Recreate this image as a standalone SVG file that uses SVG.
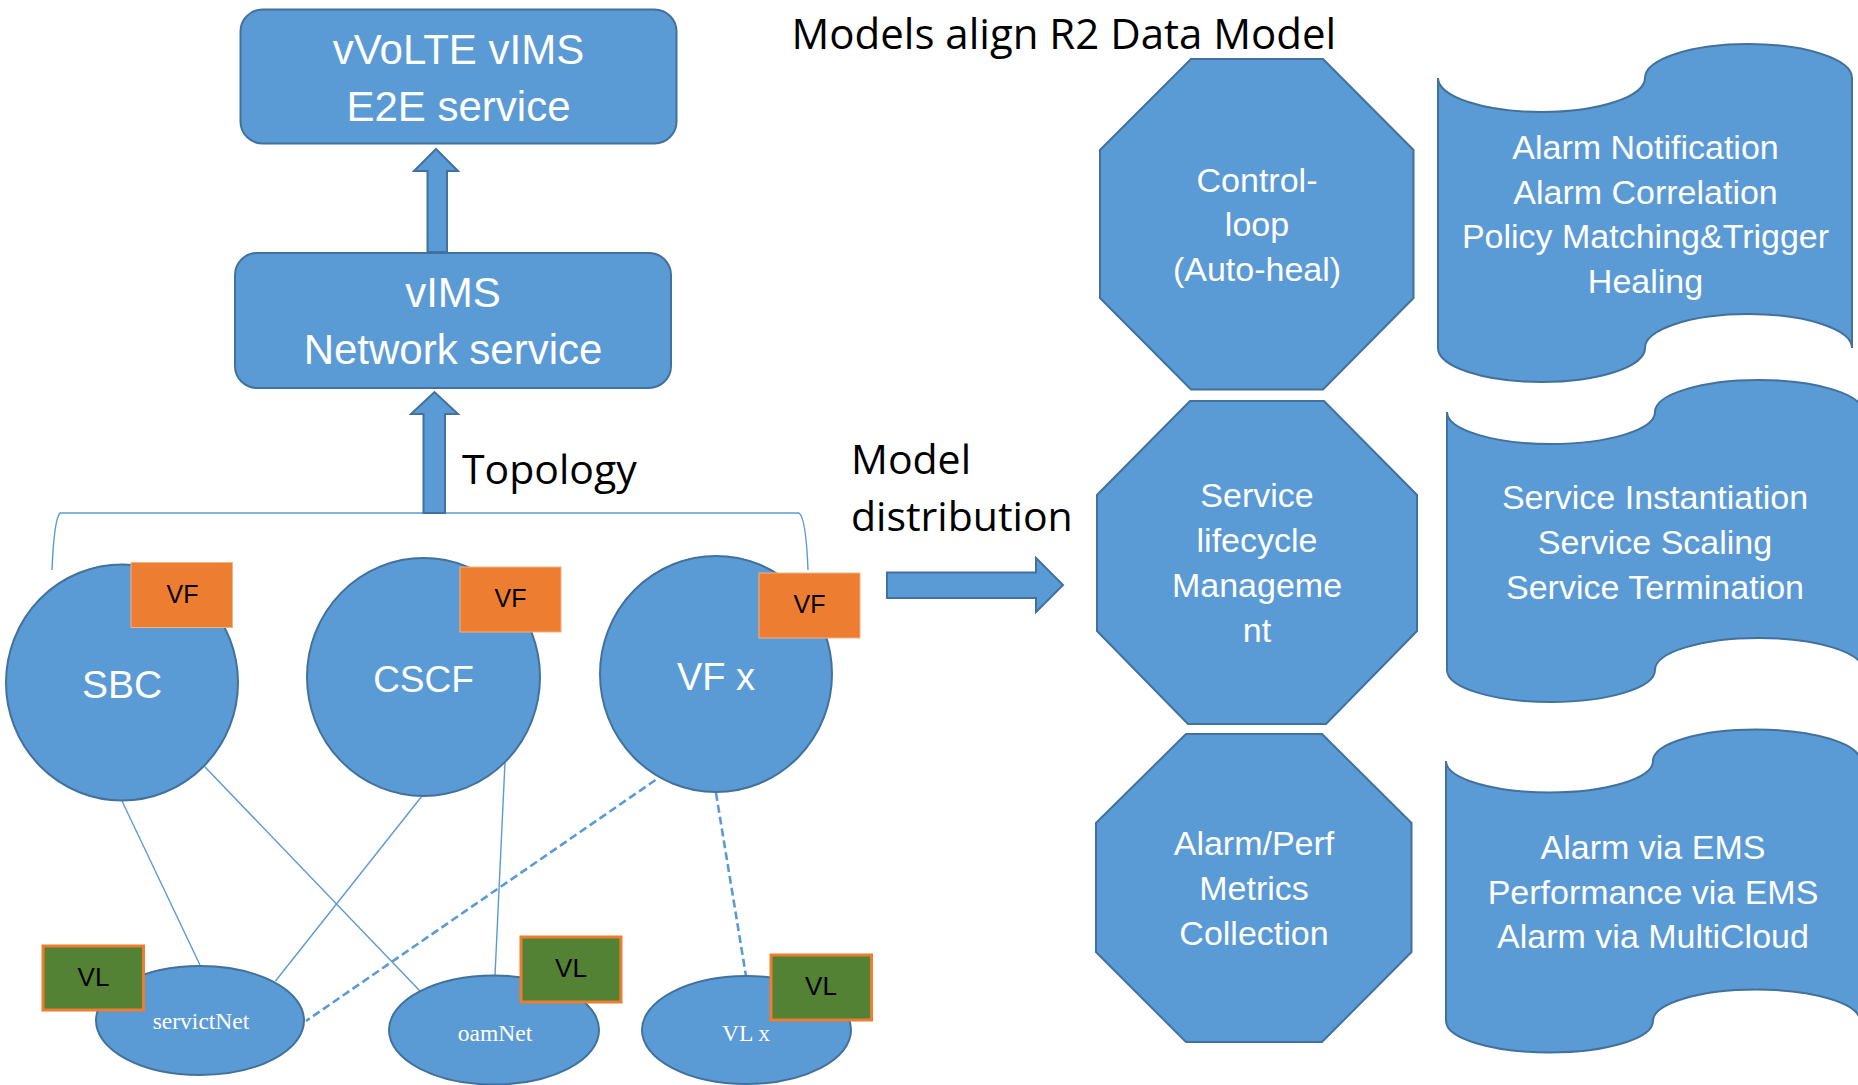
<svg xmlns="http://www.w3.org/2000/svg" width="1858" height="1085" viewBox="0 0 1858 1085">
<style>
.shape{fill:#5B9BD5;stroke:#41719C;stroke-width:2}
.wt{fill:#FFFFFF;font-family:"Liberation Sans",Arial,sans-serif;text-anchor:middle}
.bt{fill:#000000;font-family:"Open Sans","Liberation Sans",sans-serif}
.st{fill:#FFFFFF;font-family:"Liberation Serif","Times New Roman",serif;font-size:23.5px;text-anchor:middle}
.vf{fill:#ED7D31;stroke:#F4B183;stroke-width:1}
.vl{fill:#548235;stroke:#ED7D31;stroke-width:3}
.lab{fill:#000000;font-family:"Liberation Sans",Arial,sans-serif;text-anchor:middle}
.ln{stroke:#5B9BD5;stroke-width:1.4;fill:none}
.dl{stroke:#5B9BD5;stroke-width:2.6;fill:none;stroke-dasharray:8 4}
</style>
<rect width="1858" height="1085" fill="#FFFFFF"/>

<g id="connectors">
  <path class="ln" d="M52,570 Q54,520 60,513 L799,513 Q806,518 808,570"/>
  <path class="shape" d="M427.5,252 L427.5,171 L414,171 L436,149 L458,171 L447,171 L447,252 Z"/>
  <path class="shape" d="M423.5,513 L423.5,414 L411,414 L434.5,392 L458,414 L445,414 L445,513 Z"/>
  <path class="shape" d="M887,572.5 L1036,572.5 L1036,558 L1063,585 L1036,612 L1036,598 L887,598 Z"/>
  <line class="ln" x1="122" y1="801" x2="200" y2="965"/>
  <line class="ln" x1="205" y1="767" x2="420" y2="991"/>
  <line class="ln" x1="422" y1="796" x2="275.5" y2="981"/>
  <line class="ln" x1="505" y1="762" x2="495" y2="975"/>
  <line class="dl" x1="655.5" y1="780" x2="306" y2="1021"/>
  <line class="dl" x1="716" y1="793" x2="746" y2="976"/>
</g>

<text class="bt" x="791.5" y="49" font-size="42">Models align R2 Data Model</text>
<text class="bt" x="462" y="484" font-size="41">Topology</text>
<text class="bt" x="851" y="474" font-size="41">Model</text>
<text class="bt" x="851" y="531" font-size="41">distribution</text>

<g id="e2e-service">
  <rect class="shape" x="240.5" y="9.5" width="436" height="134" rx="22"/>
  <text class="wt" x="458.5" y="64" font-size="42">vVoLTE vIMS</text>
  <text class="wt" x="458.5" y="121" font-size="42">E2E service</text>
</g>
<g id="network-service">
  <rect class="shape" x="235" y="253" width="436" height="135" rx="22"/>
  <text class="wt" x="453" y="307" font-size="42">vIMS</text>
  <text class="wt" x="453" y="364" font-size="42">Network service</text>
</g>

<g id="sbc">
  <ellipse class="shape" cx="122" cy="682.5" rx="116" ry="118"/>
  <text class="wt" x="122" y="698" font-size="39">SBC</text>
  <rect class="vf" x="131" y="562.5" width="101.5" height="65"/>
  <text class="lab" x="182.5" y="602.5" font-size="25">VF</text>
</g>
<g id="cscf">
  <ellipse class="shape" cx="423.5" cy="677" rx="116.5" ry="119"/>
  <text class="wt" x="423.5" y="692" font-size="37">CSCF</text>
  <rect class="vf" x="460" y="567" width="101" height="65"/>
  <text class="lab" x="510.5" y="607" font-size="25">VF</text>
</g>
<g id="vfx">
  <ellipse class="shape" cx="716" cy="674" rx="116" ry="118"/>
  <text class="wt" x="716" y="690" font-size="38">VF x</text>
  <rect class="vf" x="759" y="573" width="101" height="65"/>
  <text class="lab" x="809.5" y="613" font-size="25">VF</text>
</g>

<g id="servictNet">
  <ellipse class="shape" cx="200" cy="1020.5" rx="104" ry="54.5"/>
  <text class="st" x="201" y="1029">servictNet</text>
  <rect class="vl" x="43" y="946" width="100.5" height="64"/>
  <text class="lab" x="93.5" y="986" font-size="26">VL</text>
</g>
<g id="oamNet">
  <ellipse class="shape" cx="494" cy="1030" rx="105" ry="54.5"/>
  <text class="st" x="495" y="1040.5">oamNet</text>
  <rect class="vl" x="521" y="937" width="100" height="65"/>
  <text class="lab" x="571" y="977" font-size="26">VL</text>
</g>
<g id="vlx">
  <ellipse class="shape" cx="746.5" cy="1030" rx="104.5" ry="54"/>
  <text class="st" x="746" y="1040.5">VL x</text>
  <rect class="vl" x="771" y="955" width="100.5" height="65"/>
  <text class="lab" x="821" y="995" font-size="26">VL</text>
</g>

<g id="control-loop">
  <polygon class="shape" points="1191,59 1323,59 1413.5,150 1413.5,298 1323,389.5 1191,389.5 1100,298 1100,150"/>
  <text class="wt" x="1257" y="192" font-size="34">Control-</text>
  <text class="wt" x="1257" y="236" font-size="34">loop</text>
  <text class="wt" x="1257" y="281" font-size="34">(Auto-heal)</text>
</g>
<g id="service-lifecycle">
  <polygon class="shape" points="1190,401 1324,401 1417,495 1417,631 1326,724 1188,724 1097,631 1097,495"/>
  <text class="wt" x="1257" y="507" font-size="34">Service</text>
  <text class="wt" x="1257" y="552" font-size="34">lifecycle</text>
  <text class="wt" x="1257" y="597" font-size="34">Manageme</text>
  <text class="wt" x="1257" y="642" font-size="34">nt</text>
</g>
<g id="alarm-perf">
  <polygon class="shape" points="1186,734 1322,734 1411.5,823 1411.5,952 1322,1042 1186,1042 1096,952 1096,823"/>
  <text class="wt" x="1254" y="855" font-size="34">Alarm/Perf</text>
  <text class="wt" x="1254" y="900" font-size="34">Metrics</text>
  <text class="wt" x="1254" y="945" font-size="34">Collection</text>
</g>

<g id="scroll-auto-heal">
  <path class="shape" d="M1438,78 A103.5,34 0 0 0 1645,78 A103.5,34 0 0 1 1852,78 L1852,348 A103.5,34 0 0 0 1645,348 A103.5,34 0 0 1 1438,348 Z"/>
  <text class="wt" x="1645.5" y="159" font-size="34">Alarm Notification</text>
  <text class="wt" x="1645.5" y="204" font-size="34">Alarm Correlation</text>
  <text class="wt" x="1645.5" y="248" font-size="34">Policy Matching&amp;Trigger</text>
  <text class="wt" x="1645.5" y="293" font-size="34">Healing</text>
</g>
<g id="scroll-lifecycle">
  <path class="shape" d="M1447,412 A104,32 0 0 0 1655,412 A104,32 0 0 1 1863,412 L1863,670 A104,32 0 0 0 1655,670 A104,32 0 0 1 1447,670 Z"/>
  <text class="wt" x="1655" y="509" font-size="34">Service Instantiation</text>
  <text class="wt" x="1655" y="554" font-size="34">Service Scaling</text>
  <text class="wt" x="1655" y="599" font-size="34">Service Termination</text>
</g>
<g id="scroll-collection">
  <path class="shape" d="M1446,761 A103.5,31.5 0 0 0 1653,761 A103.5,31.5 0 0 1 1860,761 L1860,1021 A103.5,31.5 0 0 0 1653,1021 A103.5,31.5 0 0 1 1446,1021 Z"/>
  <text class="wt" x="1653" y="859" font-size="34">Alarm via EMS</text>
  <text class="wt" x="1653" y="904" font-size="34">Performance via EMS</text>
  <text class="wt" x="1653" y="948" font-size="34">Alarm via MultiCloud</text>
</g>
</svg>
